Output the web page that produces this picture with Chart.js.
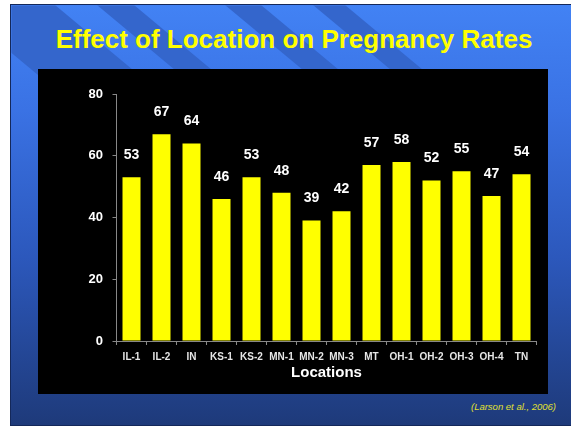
<!DOCTYPE html>
<html>
<head>
    <title>Effect of Location on Pregnancy Rates</title>
    <script src="https://cdn.jsdelivr.net/npm/chart.js"></script>
    <style>
        body { margin: 0; width: 571px; height: 426px; background: #fff; position: relative; overflow: hidden; font-family: "Liberation Sans", Arial, sans-serif; }
        #slide { position: absolute; left: 10px; top: 4px; width: 560px; height: 420px;
                 border-left: 1.5px solid #14285a; border-top: 1.5px solid #14285a; border-bottom: 1.5px solid #14285a;
                 background: linear-gradient(180deg, #4282f4 0%, #3a72e4 25%, #2c58bc 60%, #1e3a7a 100%); }
        #stripes { position: absolute; left: 0; top: 0; }
        #title { position: absolute; left: 0; top: 26px; width: 588px; text-align: center; color: #ffff00;
                 font-weight: bold; font-size: 26px; line-height: 26px; }
        #box { position: absolute; left: 38px; top: 69px; width: 510px; height: 325px; background: #000; }
        #cite { position: absolute; right: 15px; top: 402px; color: #e0e030; font-style: italic; font-size: 9.5px; line-height: 10px; }
    </style>
</head>
<body>
    <div id="slide"></div>
    <svg id="stripes" width="571" height="426">
        <defs><clipPath id="c"><rect x="11.5" y="5.5" width="560" height="100"/></clipPath></defs>
        <g clip-path="url(#c)" fill="#3466cc">
            <polygon points="-46,5 55,5 175,105 74,105"/>
            <polygon points="97,5 134,5 254,105 217,105"/>
            <polygon points="225,5 261,5 381,105 345,105"/>
            <polygon points="313,5 345,5 465,105 433,105"/>
        </g>
    </svg>
    <div id="title">Effect of Location on Pregnancy Rates</div>
    <div id="box"><canvas id="chart" width="510" height="325"></canvas></div>
    <div id="cite">(Larson et al., 2006)</div>

    <script>
        // data
        const locations = ['IL-1', 'IL-2', 'IN', 'KS-1', 'KS-2', 'MN-1', 'MN-2', 'MN-3', 'MT', 'OH-1', 'OH-2', 'OH-3', 'OH-4', 'TN'];
        const pregnancyRates = [53, 67, 64, 46, 53, 48, 39, 42, 57, 58, 52, 55, 47, 54];
        const yTicks = [0, 20, 40, 60, 80];

        const fontName = '"Liberation Sans", Arial, sans-serif';

        // white numbers above each bar
        const valueLabels = {
            id: 'valueLabels',
            afterDatasetsDraw(chart) {
                const ctx = chart.ctx;
                const meta = chart.getDatasetMeta(0);
                ctx.save();
                ctx.fillStyle = '#ffffff';
                ctx.font = 'bold 14px ' + fontName;
                ctx.textAlign = 'center';
                ctx.textBaseline = 'middle';
                meta.data.forEach((bar, i) => {
                    ctx.fillText(pregnancyRates[i], bar.x, bar.y - 22);
                });
                ctx.restore();
            }
        };

        const ctx = document.getElementById('chart').getContext('2d');
        const chart = new Chart(ctx, {
            type: 'bar',
            data: {
                labels: locations,
                datasets: [{
                    data: pregnancyRates,
                    backgroundColor: '#ffff00',
                    borderWidth: 0,
                    barPercentage: 0.6,
                    categoryPercentage: 1.0
                }]
            },
            options: {
                responsive: false,
                animation: false,
                layout: { padding: { top: 25, right: 11.5, left: 0, bottom: 0 } },
                plugins: {
                    legend: { display: false },
                    tooltip: { enabled: false }
                },
                scales: {
                    x: {
                        grid: { display: true, drawOnChartArea: false, drawTicks: true, tickLength: 4, color: '#888888' },
                        border: { display: true, color: '#888888', width: 1 },
                        ticks: { color: '#e6e6e6', font: { family: fontName, size: 10, weight: 'bold' }, padding: 6, maxRotation: 0, autoSkip: false },
                        title: { display: true, text: 'Locations', color: '#ffffff', font: { family: fontName, size: 15, weight: 'bold' }, padding: { top: 0, bottom: 12 } },
                        afterFit(scale) { scale.height = 53; }
                    },
                    y: {
                        min: 0,
                        max: 80,
                        afterBuildTicks(scale) { scale.ticks = yTicks.map(v => ({ value: v })); },
                        grid: { display: true, drawOnChartArea: false, drawTicks: true, tickLength: 4, color: '#888888' },
                        border: { display: true, color: '#888888', width: 1 },
                        ticks: { color: '#ffffff', font: { family: fontName, size: 13, weight: 'bold' }, padding: 9.5 },
                        afterFit(scale) { scale.width = 78.5; }
                    }
                }
            },
            plugins: [valueLabels]
        });
    </script>
</body>
</html>
